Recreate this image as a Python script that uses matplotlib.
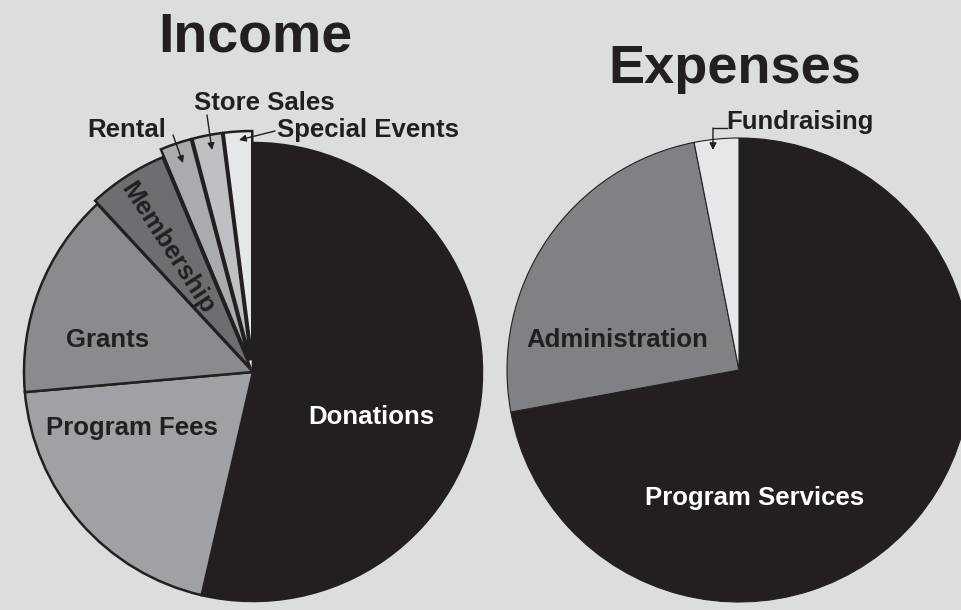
import matplotlib.pyplot as plt
import numpy as np

# Income data (percent)
income_labels = ['Donations', 'Program Fees', 'Grants', 'Membership', 'Rental', 'Store Sales', 'Special Events']
income_values = [53.6, 20.0, 14.5, 5.6, 2.2, 2.1, 2.0]
income_colors = ['#231f20', '#a0a1a4', '#8a8b8e', '#6d6e71', '#a9abae', '#bfc0c3', '#e6e7e8']

# Expenses data (percent)
expense_labels = ['Program Services', 'Administration', 'Fundraising']
expense_values = [72.1, 24.8, 3.1]
expense_colors = ['#231f20', '#808184', '#e6e7e8']

W, H = 962, 610
bg = '#dcdddf'
dark = '#231f20'
font = ['Liberation Sans', 'DejaVu Sans']

fig = plt.figure(figsize=(W / 100, H / 100), dpi=100, facecolor=bg)
ax = fig.add_axes([0, 0, 1, 1])
ax.set_facecolor(bg)

def py(y):
    # pixel row -> data y
    return H - y

# Income pie
explode = [0, 0, 0, 4, 12, 12, 12]
ax.pie(income_values, colors=income_colors, startangle=90, counterclock=False,
       center=(253, py(372)), radius=229, explode=explode,
       wedgeprops=dict(edgecolor=dark, linewidth=1.8))

# Expenses pie
ax.pie(expense_values, colors=expense_colors, startangle=90, counterclock=False,
       center=(739, py(370)), radius=232,
       wedgeprops=dict(edgecolor=dark, linewidth=0.8))

ax.set_xlim(0, W)
ax.set_ylim(0, H)
ax.set_aspect('equal', adjustable='box')
ax.axis('off')

# Titles
ax.text(255, py(37), 'Income', fontsize=40, fontweight='bold', color=dark,
        ha='center', va='center', family=font)
ax.text(735, py(69), 'Expenses', fontsize=39, fontweight='bold', color=dark,
        ha='center', va='center', family=font)

lab = dict(fontsize=18.5, fontweight='bold', color=dark, ha='center', va='center', family=font)

# Inside labels
ax.text(371, py(417), 'Donations', **{**lab, 'color': 'white'})
ax.text(132, py(428), 'Program Fees', **lab)
ax.text(108, py(340), 'Grants', **lab)
ax.text(168, py(248), 'Membership', rotation=-57, rotation_mode='anchor', **lab)
ax.text(617, py(340), 'Administration', **lab)
ax.text(755, py(498), 'Program Services', **{**lab, 'color': 'white'})

# Outside labels with arrows
arrow = dict(arrowstyle='-|>', color=dark, lw=1, mutation_scale=10, shrinkA=0, shrinkB=0)
ax.text(127, py(130), 'Rental', **lab)
ax.annotate('', xy=(183, py(163)), xytext=(173, py(135)), arrowprops=arrow)
ax.text(264, py(103), 'Store Sales', **lab)
ax.annotate('', xy=(212, py(150)), xytext=(207, py(115)), arrowprops=arrow)
ax.text(368, py(130), 'Special Events', **lab)
ax.annotate('', xy=(239, py(140)), xytext=(275, py(131)), arrowprops=arrow)
ax.text(800, py(122), 'Fundraising', **lab)
ax.plot([727, 713], [py(128), py(128)], color=dark, lw=1)
ax.annotate('', xy=(713, py(150)), xytext=(713, py(128)), arrowprops=arrow)

fig.savefig('out.png', dpi=100, facecolor=bg)
